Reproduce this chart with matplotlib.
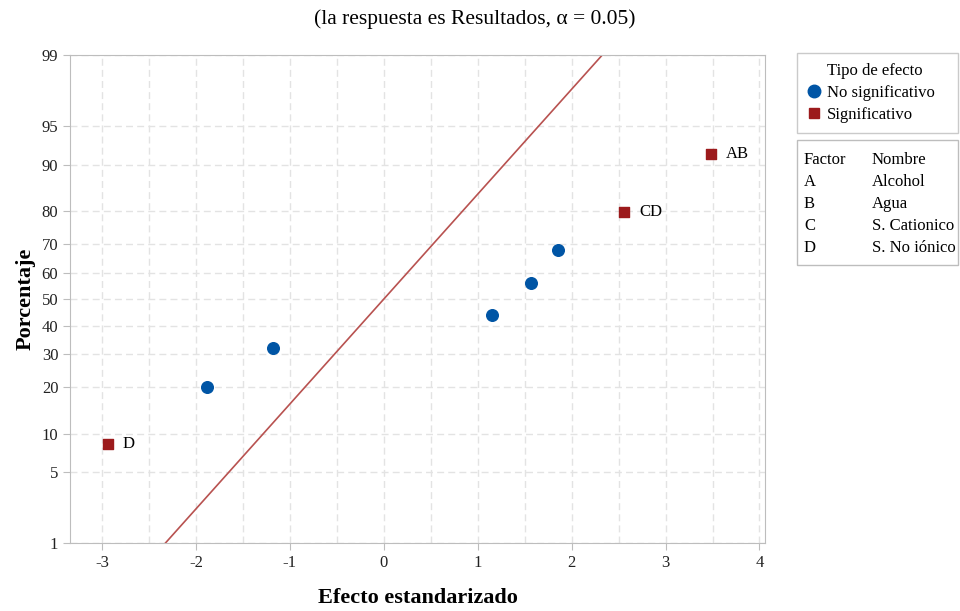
from statistics import NormalDist
import numpy as np
from matplotlib import pyplot as plt
from matplotlib.patches import Rectangle
from matplotlib.lines import Line2D

# efectos estandarizados y percentiles
efecto_ns = [-1.88, -1.18, 1.15, 1.57, 1.85]
pct_ns = [20.2, 32.1, 44.0, 56.0, 67.9]
efecto_sig = [-2.94, 2.56, 3.48]
pct_sig = [8.3, 79.8, 91.7]
etiquetas_sig = ["D", "CD", "AB"]

# recta de referencia (media 0, desviacion 1)
media_ref = 0.0
sigma_ref = 1.0

y_ticks = [1, 5, 10, 20, 30, 40, 50, 60, 70, 80, 90, 95, 99]
x_ticks = [-3, -2, -1, 0, 1, 2, 3, 4]

factores = ["A", "B", "C", "D"]
nombres = ["Alcohol", "Agua", "S. Cationico", "S. No iónico"]

nd = NormalDist()
_ppf = np.vectorize(lambda p: nd.inv_cdf(min(max(p / 100.0, 1e-12), 1 - 1e-12)), otypes=[float])
_cdf = np.vectorize(lambda z: nd.cdf(z) * 100.0, otypes=[float])

plt.rcParams['font.family'] = ['Liberation Serif', 'DejaVu Serif']
plt.rcParams['axes.unicode_minus'] = False

fig = plt.figure(figsize=(9.6, 6.11), dpi=100)
ax = fig.add_axes([0.073, 0.111, 0.724, 0.799])
ax.set_yscale('function', functions=(lambda p: _ppf(p), lambda z: _cdf(z)))

gris = '#bdbdbd'
for s in ax.spines.values():
	s.set_color(gris)

ax.set_xlim(-3.34, 4.06)
ax.set_ylim(1, 99)
ax.set_xticks(x_ticks)
ax.set_xticks(np.arange(-3, 4.01, 0.5), minor=True)
ax.set_yticks(y_ticks)
ax.set_yticklabels([str(t) for t in y_ticks])
ax.yaxis.set_minor_locator(plt.NullLocator())
ax.tick_params(axis='both', which='major', colors=gris, labelcolor='#222222', labelsize=12, length=5)
ax.tick_params(axis='x', which='minor', length=0)
ax.grid(True, which='both', axis='x', color='#e3e3e3', linestyle=(0, (5, 3)), linewidth=1)
ax.grid(True, which='major', axis='y', color='#e3e3e3', linestyle=(0, (5, 3)), linewidth=1)
ax.set_axisbelow(True)

xs = np.linspace(-3.34, 4.06, 200)
ax.plot(xs, _cdf((xs - media_ref) / sigma_ref), color='#b85250', linewidth=1.2, zorder=2)

ax.scatter(efecto_ns, pct_ns, marker='o', s=70, color='#0055a5', zorder=3)
ax.scatter(efecto_sig, pct_sig, marker='s', s=48, color='#9c1a1c', zorder=3)
for x, y, t in zip(efecto_sig, pct_sig, etiquetas_sig):
	ax.annotate(t, (x, y), xytext=(11, 0), textcoords='offset points', va='center', fontsize=12)

ax.set_xlabel("Efecto estandarizado", fontsize=16, fontweight='bold', labelpad=12)
ax.set_ylabel("Porcentaje", fontsize=16, fontweight='bold', labelpad=4)
fig.text(0.495, 0.968, "(la respuesta es Resultados, α = 0.05)", ha='center', va='center', fontsize=15.5)

handles = [
	Line2D([], [], linestyle='none', marker=None),
	Line2D([], [], linestyle='none', marker='o', markersize=9, color='#0055a5'),
	Line2D([], [], linestyle='none', marker='s', markersize=7, color='#9c1a1c'),
]
labels = ["Tipo de efecto", "No significativo", "Significativo"]
leg = ax.legend(handles, labels, loc='upper left',
	bbox_to_anchor=(797 / 960, 1 - 132 / 611, 161 / 960, 79 / 611), mode='expand',
	bbox_transform=fig.transFigure, fontsize=12, frameon=True, fancybox=False,
	handletextpad=0.4, borderaxespad=0, handlelength=0.8, labelspacing=0.35, borderpad=0.6)
leg.get_frame().set_edgecolor(gris)
leg.get_frame().set_linewidth(1)

# tabla de factores
bx0, by0, bw, bh = 797 / 960, 1 - 265 / 611, 161 / 960, 125 / 611
fig.patches.append(Rectangle((bx0, by0), bw, bh, transform=fig.transFigure, fill=False,
	edgecolor=gris, linewidth=1))
filas_f = ["Factor"] + factores
filas_n = ["Nombre"] + nombres
for i, (f, n) in enumerate(zip(filas_f, filas_n)):
	yy = 1 - (160 + i * 22) / 611
	fig.text(804 / 960, yy, f, fontsize=12, va='center')
	fig.text(872 / 960, yy, n, fontsize=12, va='center')

plt.savefig("out.png", dpi=100)
